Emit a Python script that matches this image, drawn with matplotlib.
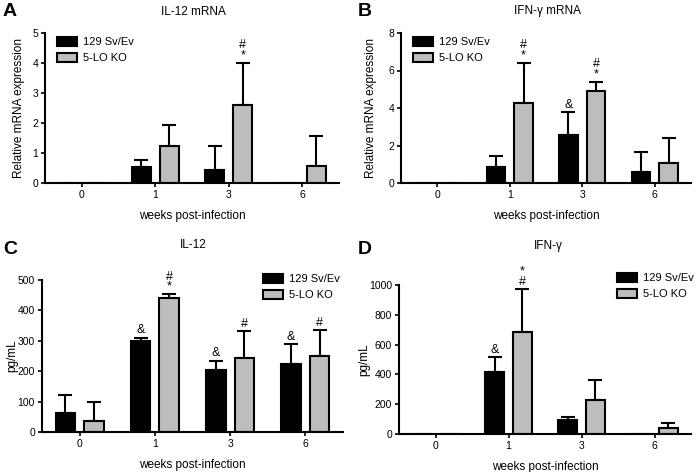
import matplotlib.pyplot as plt
import numpy as np

plt.rcParams['font.family'] = ['Liberation Sans', 'DejaVu Sans']

weeks = ['0', '1', '3', '6']
groups = ['129 Sv/Ev', '5-LO KO']

# A: IL-12 mRNA
il12_mrna_wt = [0, 0.52, 0.42, 0]
il12_mrna_wt_top = [0, 0.78, 1.25, 0]
il12_mrna_ko = [0, 1.25, 2.6, 0.58]
il12_mrna_ko_top = [0, 1.93, 4.0, 1.57]
il12_mrna_wt_sig = ['', '', '', '']
il12_mrna_ko_sig = ['', '', '#\n*', '']

# B: IFN-g mRNA
ifng_mrna_wt = [0, 0.85, 2.58, 0.6]
ifng_mrna_wt_top = [0, 1.42, 3.78, 1.65]
ifng_mrna_ko = [0, 4.25, 4.92, 1.05]
ifng_mrna_ko_top = [0, 6.42, 5.4, 2.42]
ifng_mrna_wt_sig = ['', '', '&', '']
ifng_mrna_ko_sig = ['', '#\n*', '#\n*', '']

# C: IL-12 protein
il12_wt = [62, 298, 205, 225]
il12_wt_top = [122, 310, 235, 288]
il12_ko = [37, 440, 243, 250]
il12_ko_top = [100, 453, 332, 335]
il12_wt_sig = ['', '&', '&', '&']
il12_ko_sig = ['', '#\n*', '#', '#']

# D: IFN-g protein
ifng_wt = [0, 415, 95, 0]
ifng_wt_top = [0, 515, 112, 0]
ifng_ko = [0, 685, 230, 38]
ifng_ko_top = [0, 970, 360, 73]
ifng_wt_sig = ['', '&', '', '']
ifng_ko_sig = ['', '*\n#', '', '']

colors = ['black', '#bdbdbd']
W, H = 696, 472


def fx(px):
    return px / W


def fy(py):
    return 1 - py / H


def panel(box, letter, letter_xy, title, title_xy, ylabel, ylabel_x, ymax, ystep,
          wt, wt_top, ko, ko_top, wt_sig, ko_sig, leg_xy):
    # box = (left, top, right, bottom) in pixels
    l, t, r, b = box
    ax = fig.add_axes([fx(l), fy(b), fx(r) - fx(l), fy(t) - fy(b)])
    x = np.arange(len(weeks))
    w = 0.26
    sets = [(x - 0.19, wt, wt_top, wt_sig), (x + 0.19, ko, ko_top, ko_sig)]
    for i, (pos, vals, tops, sigs) in enumerate(sets):
        vals = np.array(vals, float)
        tops = np.array(tops, float)
        ax.bar(pos, vals, w, color=colors[i], edgecolor='black', linewidth=1.5,
               label=groups[i], zorder=2)
        err = tops - vals
        has = err > 0
        ax.errorbar(pos[has], vals[has], yerr=[np.zeros(has.sum()), err[has]],
                    fmt='none', ecolor='black', elinewidth=1.5, capsize=5,
                    capthick=1.5, zorder=1)
        for p, tp, s in zip(pos, tops, sigs):
            if s:
                ax.annotate(s, (p, tp), xytext=(0, 1), textcoords='offset points',
                            ha='center', va='bottom', fontsize=9, linespacing=0.8)
    ax.set_xlim(-0.5, 3.5)
    ax.set_ylim(0, ymax)
    ax.set_yticks(np.arange(0, ymax + 1e-9, ystep))
    ax.set_xticks(x)
    ax.set_xticklabels(weeks)
    ax.spines['top'].set_visible(False)
    ax.spines['right'].set_visible(False)
    ax.spines['left'].set_linewidth(1.5)
    ax.spines['bottom'].set_linewidth(1.5)
    ax.tick_params(axis='both', labelsize=7.5, width=1.2, length=3, pad=2)
    ax.set_xlabel('weeks post-infection', fontsize=8.5, labelpad=7)
    ax.set_ylabel(ylabel, fontsize=8.5)
    # label anchor is the right edge of the rotated text
    ax.yaxis.set_label_coords((ylabel_x + 5 - l) / (r - l), 0.5)
    fig.text(fx(title_xy[0]), fy(title_xy[1]), title, fontsize=8.5,
             ha='center', va='center')
    ax.legend(loc='upper left', bbox_to_anchor=(fx(leg_xy[0]), fy(leg_xy[1])),
              bbox_transform=fig.transFigure, frameon=False, fontsize=8,
              handlelength=1.8, handleheight=0.9, borderaxespad=0, borderpad=0,
              labelspacing=0.5, handletextpad=0.5)
    fig.text(fx(letter_xy[0]), fy(letter_xy[1]), letter,
             fontsize=14, fontweight='bold', ha='left', va='center')
    return ax


fig = plt.figure(figsize=(6.96, 4.72), dpi=100)

panel((45, 33, 339, 183), 'A', (3, 12), 'IL-12 mRNA', (193, 12),
      'Relative mRNA expression', 20, 5, 1,
      il12_mrna_wt, il12_mrna_wt_top, il12_mrna_ko, il12_mrna_ko_top,
      il12_mrna_wt_sig, il12_mrna_ko_sig, (57, 37))
panel((401, 33, 691, 183), 'B', (358, 12), 'IFN-γ mRNA', (548, 11),
      'Relative mRNA expression', 372, 8, 2,
      ifng_mrna_wt, ifng_mrna_wt_top, ifng_mrna_ko, ifng_mrna_ko_top,
      ifng_mrna_wt_sig, ifng_mrna_ko_sig, (413, 37))
panel((42, 280, 343, 432), 'C', (3, 249), 'IL-12', (193, 245),
      'pg/mL', 13, 500, 100, il12_wt, il12_wt_top, il12_ko, il12_ko_top,
      il12_wt_sig, il12_ko_sig, (263, 274))
panel((399, 285, 691, 434), 'D', (358, 249), 'IFN-γ', (548, 246),
      'pg/mL', 365, 1000, 200, ifng_wt, ifng_wt_top, ifng_ko, ifng_ko_top,
      ifng_wt_sig, ifng_ko_sig, (617, 273))

fig.savefig('out.png', dpi=100)
